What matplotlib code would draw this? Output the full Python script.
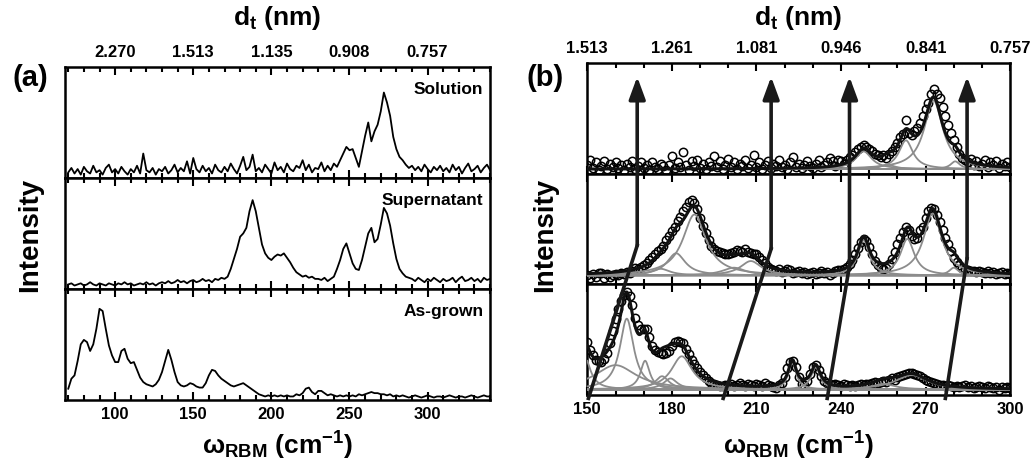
import numpy as np
import matplotlib
matplotlib.use("Agg")
import matplotlib.pyplot as plt
from matplotlib.ticker import MultipleLocator

plt.rcParams['font.family'] = ['Liberation Sans', 'DejaVu Sans']
plt.rcParams['font.weight'] = 'bold'
plt.rcParams['mathtext.fontset'] = 'custom'
plt.rcParams['mathtext.rm'] = 'Liberation Sans:bold'
plt.rcParams['mathtext.bf'] = 'Liberation Sans:bold'
plt.rcParams['mathtext.it'] = 'Liberation Sans:bold'

# ---------------- panel (a): raw spectra, 70..340 cm-1 every 2 ----------------
w_a = np.arange(70, 341, 2)
solution = [5, 9, 4, 8, 3, 10, 6, 4, 11, 5,
            7, 3, 9, 12, 5, 8, 4, 10, 6, 3,
            8, 5, 11, 4, 22, 7, 5, 9, 3, 8,
            6, 10, 4, 7, 12, 5, 9, 6, 15, 4,
            18, 8, 5, 11, 6, 9, 4, 12, 7, 5,
            10, 6, 13, 8, 4, 11, 19, 7, 10, 21,
            6, 9, 5, 12, 8, 4, 14, 7, 10, 5,
            13, 8, 6, 11, 9, 16, 7, 12, 5, 9,
            8, 14, 6, 11, 7, 13, 10, 16, 22, 28,
            25, 26, 18, 10, 24, 38, 50, 33, 42, 48,
            60, 77, 68, 56, 37, 26, 19, 16, 12, 9,
            11, 7, 10, 6, 12, 8, 5, 10, 7, 11,
            6, 9, 5, 12, 7, 10, 4, 9, 13, 6,
            8, 11, 5, 9, 12, 7]
supernatant = [4, 5, 3, 4, 5, 3, 4, 6, 4, 3,
               5, 4, 3, 5, 4, 3, 5, 4, 6, 4,
               5, 3, 4, 5, 4, 6, 4, 5, 3, 5,
               6, 5, 7, 5, 6, 8, 6, 7, 5, 7,
               8, 6, 7, 9, 7, 8, 6, 9, 8, 10,
               9, 11, 18, 27, 36, 47, 50, 55, 70, 80,
               70, 55, 40, 32, 28, 26, 29, 31, 30, 32,
               28, 24, 19, 15, 13, 11, 12, 10, 11, 9,
               9, 8, 10, 7, 9, 11, 18, 26, 36, 41,
               32, 23, 18, 17, 26, 38, 50, 55, 42, 45,
               58, 73, 68, 57, 41, 27, 18, 14, 11, 10,
               9, 7, 10, 8, 6, 9, 7, 10, 8, 6,
               9, 7, 8, 10, 6, 9, 11, 7, 8, 10,
               7, 9, 6, 10, 8, 9]
as_grown = [10, 19, 22, 35, 50, 54, 52, 44, 50, 64,
            82, 80, 64, 49, 40, 34, 34, 44, 46, 37,
            33, 34, 27, 20, 16, 14, 13, 12, 14, 18,
            25, 35, 45, 36, 25, 16, 13, 12, 13, 15,
            14, 12, 11, 11, 15, 22, 27, 26, 22, 19,
            17, 15, 13, 12, 13, 14, 15, 13, 11, 9,
            7, 5, 4, 3, 4, 3, 4, 3, 4, 3,
            4, 3, 3, 5, 4, 6, 10, 11, 7, 5,
            8, 8, 6, 4, 5, 4, 3, 4, 3, 4,
            3, 4, 3, 5, 4, 5, 6, 7, 6, 6,
            5, 5, 4, 5, 3, 4, 3, 4, 3, 2,
            3, 4, 3, 2, 3, 4, 3, 2, 3, 3,
            2, 3, 4, 3, 2, 3, 3, 2, 3, 4,
            3, 2, 3, 4, 3, 3]
names_a = ['Solution', 'Supernatant', 'As-grown']
ticks_a = [100, 150, 200, 250, 300]
top_labels_a = ['2.270', '1.513', '1.135', '0.908', '0.757']

# ---------------- panel (b): fitted spectra, 150..300 cm-1 every 1 ----------------
w_b = np.arange(150, 301)
pts_top = [8, 12, 5, 10, 3, 7, 11, 4, 9, 6,
           10, 5, 8, 3, 9, 6, 11, 4, 7, 10,
           5, 8, 3, 10, 6, 4, 9, 7, 3, 8,
           16, 5, 10, 6, 19, 8, 3, 11, 7, 12,
           5, 9, 4, 10, 7, 16, 6, 11, 4, 8,
           13, 6, 10, 4, 9, 7, 12, 5, 8, 17,
           6, 10, 4, 8, 11, 5, 9, 7, 12, 6,
           8, 4, 10, 15, 6, 9, 5, 8, 11, 7,
           5, 9, 12, 6, 8, 10, 14, 11, 7, 12,
           11, 9, 12, 15, 17, 19, 22, 24, 26, 24,
           22, 20, 18, 17, 15, 17, 14, 18, 20, 24,
           28, 33, 36, 48, 37, 35, 38, 41, 46, 52,
           58, 64, 72, 76, 72, 68, 60, 52, 44, 37,
           30, 24, 18, 14, 12, 10, 13, 8, 11, 7,
           9, 12, 6, 10, 8, 11, 5, 9, 7, 10,
           6]
pts_mid = [8, 6, 9, 7, 10, 10, 6, 9, 7, 8,
           9, 8, 10, 9, 11, 10, 12, 15, 14, 16,
           17, 19, 22, 25, 27, 30, 32, 35, 40, 44,
           48, 52, 57, 61, 66, 70, 74, 76, 73, 68,
           60, 53, 46, 40, 35, 32, 30, 29, 28, 27,
           27, 28, 29, 31, 30, 29, 32, 29, 28, 27,
           27, 25, 22, 19, 16, 14, 13, 12, 14, 11,
           12, 14, 13, 10, 11, 12, 10, 11, 9, 10,
           11, 9, 10, 12, 10, 11, 8, 10, 12, 13,
           13, 14, 16, 18, 22, 27, 33, 38, 41, 39,
           34, 27, 21, 17, 15, 14, 15, 18, 23, 29,
           36, 42, 47, 52, 49, 44, 41, 42, 49, 52,
           60, 66, 69, 68, 63, 56, 49, 42, 36, 30,
           24, 20, 17, 15, 14, 13, 12, 12, 11, 12,
           11, 10, 12, 10, 11, 9, 10, 11, 9, 10,
           9]
pts_bot = [48, 41, 36, 32, 31, 30, 33, 38, 47, 58,
           69, 78, 85, 90, 93, 89, 81, 70, 63, 60,
           60, 60, 52, 44, 41, 39, 38, 37, 38, 40,
           44, 48, 49, 48, 47, 42, 37, 32, 28, 24,
           21, 18, 15, 13, 11, 10, 9, 8, 8, 9,
           9, 10, 8, 9, 11, 9, 8, 10, 9, 8,
           10, 9, 8, 11, 9, 8, 7, 6, 9, 11,
           16, 24, 30, 31, 25, 16, 10, 9, 13, 19,
           25, 27, 23, 17, 13, 11, 10, 9, 10, 9,
           8, 10, 9, 8, 9, 8, 9, 10, 9, 10,
           10, 11, 12, 11, 12, 13, 12, 14, 15, 14,
           16, 17, 18, 19, 20, 20, 19, 18, 17, 15,
           14, 13, 12, 11, 10, 9, 9, 8, 9, 8,
           7, 8, 7, 8, 9, 7, 8, 6, 7, 8,
           7, 6, 8, 7, 6, 7, 5, 7, 6, 7,
           6]
# Lorentzian fit components: centre, height, FWHM
base_b = [4, 8, 5]
comp_top = [(248, 16, 7), (256.5, 4, 6), (263, 26, 6), (272.8, 62, 8), (280.5, 7, 4)]
comp_mid = [(176, 6, 8), (181.5, 20, 8), (188, 55, 10), (202, 7, 10), (208, 13, 9),
            (248, 32, 5), (263.5, 33, 6), (272.5, 56, 8), (280, 7, 4)]
comp_bot = [(149, 30, 5), (160, 22, 18), (164, 64, 6), (170.5, 26, 4), (176.5, 12, 6),
            (179.5, 10, 6), (183.5, 30, 9), (222.7, 24, 3.5), (231, 20, 4),
            (255, 5, 10), (265, 13, 14)]
ticks_b = [150, 180, 210, 240, 270, 300]
top_labels_b = ['1.513', '1.261', '1.081', '0.946', '0.841', '0.757']

# arrows: omega at the top, omega at the bottom, height of the bend (fraction of panel b)
arrow_top_w = [167.7, 215.2, 243.0, 284.7]
arrow_bot_w = [150.4, 198.2, 235.1, 277.0]
arrow_bend = [0.45, 0.44, 0.39, 0.41]


def lorentz(x, c, h, fw):
    return h / (1 + ((x - c) / (fw / 2.0)) ** 2)


def style(ax, xlim, ticks, top, bottom, top_labels):
    ax.set_xlim(*xlim)
    ax.set_ylim(0, 100)
    ax.set_yticks([])
    ax.set_xticks(ticks)
    ax.xaxis.set_minor_locator(MultipleLocator(10))
    ax.tick_params(axis='x', which='both', direction='in', top=True, bottom=True,
                   width=1.5, labelsize=12, labeltop=top, labelbottom=bottom, pad=5)
    ax.tick_params(axis='x', which='major', length=6)
    ax.tick_params(axis='x', which='minor', length=3.5)
    if top:
        ax.set_xticklabels(top_labels)
    for s in ax.spines.values():
        s.set_linewidth(1.8)


fig = plt.figure(figsize=(10.34, 4.72), dpi=100)
gs_a = fig.add_gridspec(3, 1, left=0.063, right=0.474, bottom=0.153, top=0.858, hspace=0)
gs_b = fig.add_gridspec(3, 1, left=0.568, right=0.977, bottom=0.163, top=0.867, hspace=0)

for i, (name, y) in enumerate(zip(names_a, [solution, supernatant, as_grown])):
    ax = fig.add_subplot(gs_a[i])
    ax.plot(w_a, y, color='black', lw=1.3)
    style(ax, (68, 340), ticks_a, i == 0, i == 2, top_labels_a)
    ax.text(0.984, 0.8, name, transform=ax.transAxes, ha='right', va='center',
            fontsize=12.5, fontweight='bold')

for i, (pts, comps, base) in enumerate(zip([pts_top, pts_mid, pts_bot],
                                           [comp_top, comp_mid, comp_bot], base_b)):
    ax = fig.add_subplot(gs_b[i])
    xs = np.linspace(150, 300, 600)
    ax.plot(w_b, pts, 'o', mfc='none', mec='black', mew=1.1, ms=6, zorder=2)
    total = np.full_like(xs, base, dtype=float)
    ax.plot(xs, total, color='#8c8c8c', lw=1.3, zorder=3)
    for c, h, fw in comps:
        comp = lorentz(xs, c, h, fw)
        total += comp
        ax.plot(xs, base + comp, color='#8c8c8c', lw=1.3, zorder=3)
    ax.plot(xs, total, color='#111111', lw=2.2, zorder=4)
    style(ax, (150, 300), ticks_b, i == 0, i == 2, top_labels_b)

ov = fig.add_axes([0.568, 0.163, 0.409, 0.704], zorder=5)
ov.set_xlim(150, 300)
ov.set_ylim(0, 1)
ov.axis('off')
for wt, wb, yb in zip(arrow_top_w, arrow_bot_w, arrow_bend):
    ov.plot([wb, wt], [-0.01, yb], color='#1a1a1a', lw=2.6, clip_on=False)
    ov.annotate('', xy=(wt, 0.958), xytext=(wt, yb),
                arrowprops=dict(arrowstyle='-|>,head_length=0.9,head_width=0.33',
                                mutation_scale=15, color='#1a1a1a', lw=2.6,
                                shrinkA=0, shrinkB=0))

fig.text(0.268, 0.962, r'$\mathbf{d_t}$ (nm)', ha='center', va='center', fontsize=19)
fig.text(0.772, 0.962, r'$\mathbf{d_t}$ (nm)', ha='center', va='center', fontsize=19)
xl = r'$\mathbf{\omega_{RBM}}$ (cm$^{\mathbf{-1}}$)'
fig.text(0.268, 0.055, xl, ha='center', va='center', fontsize=19)
fig.text(0.772, 0.055, xl, ha='center', va='center', fontsize=19)
fig.text(0.029, 0.835, '(a)', ha='center', va='center', fontsize=21)
fig.text(0.527, 0.835, '(b)', ha='center', va='center', fontsize=21)
fig.text(0.029, 0.502, 'Intensity', ha='center', va='center', rotation=90, fontsize=20)
fig.text(0.527, 0.502, 'Intensity', ha='center', va='center', rotation=90, fontsize=20)

fig.savefig('out.png', dpi=100)
